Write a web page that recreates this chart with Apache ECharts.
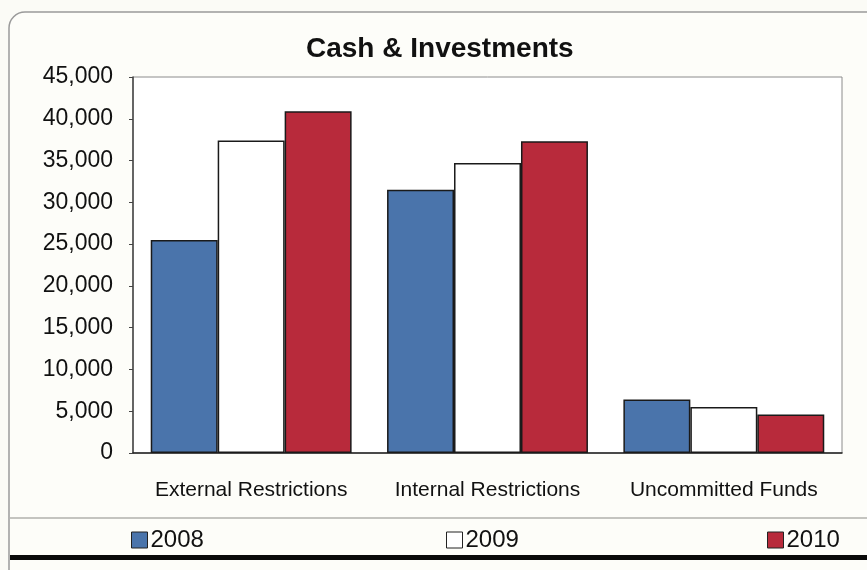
<!DOCTYPE html>
<html>
<head>
<meta charset="utf-8">
<script src="https://cdn.jsdelivr.net/npm/echarts@6/dist/echarts.min.js"></script>
<style>
  html, body { margin: 0; padding: 0; background: #fbfbf6; }
  #chart { width: 867px; height: 570px; }
</style>
</head>
<body>
<div id="chart"></div>
<script>
// Cash & Investments by funding category, in thousands
const categories = ['External Restrictions', 'Internal Restrictions', 'Uncommitted Funds'];
const years = ['2008', '2009', '2010'];
const values2008 = [25500, 31500, 6400];
const values2009 = [37400, 34700, 5500];
const values2010 = [40900, 37300, 4600];
const yMin = 0, yMax = 45000, yStep = 5000;

const FONT = "'Liberation Sans', Arial, Helvetica, sans-serif";
const colors = { '2008': '#4a74ab', '2009': '#ffffff', '2010': '#b82a3b' };
const seriesValues = { '2008': values2008, '2009': values2009, '2010': values2010 };

const chart = echarts.init(document.getElementById('chart'), null, { renderer: 'canvas' });

const legendLeft = { '2008': 131, '2009': 446, '2010': 767 };

chart.setOption({
  backgroundColor: '#fbfbf6',
  animation: false,
  title: {
    text: 'Cash & Investments',
    left: 301,
    top: 30,
    textStyle: { fontFamily: FONT, fontSize: 28, fontWeight: 'bold', color: '#111' }
  },
  legend: years.map(y => ({
    data: [y],
    left: legendLeft[y],
    top: 528,
    icon: 'rect',
    itemWidth: 16,
    itemHeight: 16,
    padding: 0,
    itemStyle: { borderColor: '#222', borderWidth: 1 },
    textStyle: { fontFamily: FONT, fontSize: 24, color: '#111', padding: [0, 0, 0, -2] }
  })),
  grid: {
    left: 133, right: 25, top: 77, bottom: 117,
    show: true,
    backgroundColor: '#ffffff',
    borderColor: '#8c8c8c',
    borderWidth: 1
  },
  xAxis: {
    type: 'category',
    data: categories,
    axisLine: { lineStyle: { color: '#222', width: 1.5 } },
    axisTick: { show: false },
    axisLabel: { interval: 0, fontFamily: FONT, fontSize: 21, color: '#111', margin: 27 }
  },
  yAxis: {
    type: 'value',
    min: yMin, max: yMax, interval: yStep,
    axisLine: { show: true, lineStyle: { color: '#444', width: 1.5 } },
    axisTick: { show: true, length: 4, lineStyle: { color: '#444' } },
    splitLine: { show: false },
    axisLabel: {
      fontFamily: FONT, fontSize: 23, color: '#111', margin: 20,
      formatter: v => v.toLocaleString('en-US')
    }
  },
  series: years.map(y => ({
    name: y,
    type: 'bar',
    data: seriesValues[y],
    barGap: '0%',
    barCategoryGap: '15%',
    itemStyle: { color: colors[y], borderColor: '#1a1a1a', borderWidth: 1.5 }
  })),
  graphic: [
    {
      type: 'rect', z: -10, silent: true,
      shape: { x: 9, y: 12, width: 880, height: 600, r: 16 },
      style: { fill: '#fdfdf9', stroke: '#9a9a9a', lineWidth: 1.5 }
    },
    {
      type: 'line', silent: true,
      shape: { x1: 10, y1: 518, x2: 867, y2: 518 },
      style: { stroke: '#c4c4c0', lineWidth: 2 }
    },
    {
      type: 'rect', silent: true,
      shape: { x: 10, y: 555, width: 857, height: 5 },
      style: { fill: '#0a0a0a' }
    }
  ]
});
</script>
</body>
</html>
